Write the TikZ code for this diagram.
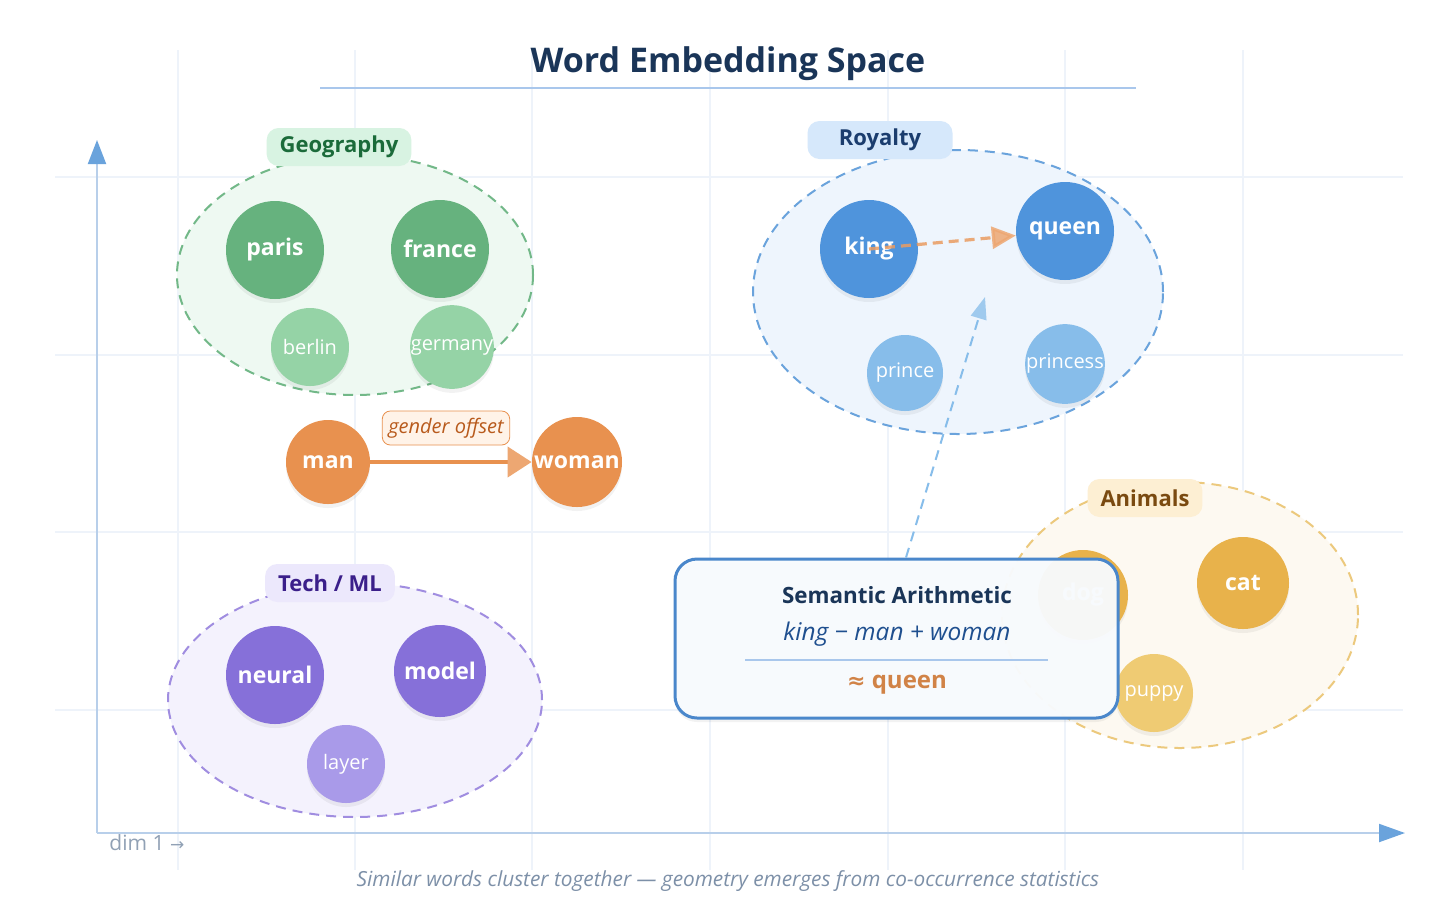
\documentclass[tikz,border=0pt]{standalone}
\usepackage{fontspec}
\setmainfont{Open Sans}
\newfontfamily\symfont{DejaVu Sans}
\usetikzlibrary{arrows.meta,shadows}

\definecolor{gridblue}{HTML}{EEF3FA}
\definecolor{axisblue}{HTML}{B8CFEA}
\definecolor{tipblue}{HTML}{6AA3DC}
\definecolor{titlenavy}{HTML}{1A3558}
\definecolor{rulerblue}{HTML}{A9C7EC}
\definecolor{captiongrey}{HTML}{7D90A8}
\definecolor{geodark}{HTML}{66B27E}
\definecolor{geolight}{HTML}{95D3A6}
\definecolor{geofill}{HTML}{EEF9F2}
\definecolor{geoline}{HTML}{72B888}
\definecolor{geopill}{HTML}{D8F3E2}
\definecolor{geotext}{HTML}{1B6B3A}
\definecolor{royaldark}{HTML}{4F94DC}
\definecolor{royallight}{HTML}{87BDEA}
\definecolor{royalfill}{HTML}{EEF5FD}
\definecolor{royalline}{HTML}{6AA3DC}
\definecolor{royalpill}{HTML}{D6E8FB}
\definecolor{royaltext}{HTML}{1B3D6E}
\definecolor{animdark}{HTML}{E8B24B}
\definecolor{animlight}{HTML}{EFCB73}
\definecolor{animfill}{HTML}{FDF9F1}
\definecolor{animline}{HTML}{ECC97D}
\definecolor{animpill}{HTML}{FDEFD3}
\definecolor{animtext}{HTML}{7A4A10}
\definecolor{techdark}{HTML}{8670D9}
\definecolor{techlight}{HTML}{A99AE9}
\definecolor{techfill}{HTML}{F4F2FD}
\definecolor{techline}{HTML}{A08DE0}
\definecolor{techpill}{HTML}{ECE8FC}
\definecolor{techtext}{HTML}{3B1F8A}
\definecolor{genderorange}{HTML}{E8914F}
\definecolor{genderpale}{HTML}{FFF3E8}
\definecolor{genderbrown}{HTML}{B85A1C}
\definecolor{boxblue}{HTML}{4A87CB}
\definecolor{boxfill}{HTML}{F8FBFE}
\definecolor{exprblue}{HTML}{1F4F8F}

\tikzset{
  softshadow/.style={drop shadow={shadow xshift=0pt, shadow yshift=-2pt, opacity=0.05, fill=black}},
  bigword/.style={circle, fill=#1, minimum size=49pt, inner sep=0pt, text=white,
    font=\fontsize{11.5}{13}\selectfont\bfseries, softshadow},
  smallword/.style={circle, fill=#1, minimum size=39pt, inner sep=0pt, text=white,
    font=\fontsize{10}{12}\selectfont, softshadow},
  cluster/.style={draw=#1, line width=1pt, dash pattern=on 5pt off 3.5pt},
  pill/.style={fill=#1, rounded corners=6pt, inner xsep=6.5pt, minimum height=19pt,
    font=\fontsize{11}{13}\selectfont\bfseries},
  gridline/.style={gridblue, line width=0.6pt},
  axisline/.style={axisblue, line width=1pt},
}

\begin{document}
\begin{tikzpicture}[x=0.5pt, y=-0.5pt]
\useasboundingbox[fill=white] (0,0) rectangle (1456,923);
\foreach \x in {178,355,532,710,888,1065,1243} \draw[gridline] (\x,50) -- (\x,870);
\foreach \y in {177,355,532,710} \draw[gridline] (55,\y) -- (1403,\y);
\coordinate (origin) at (97,833);
\coordinate (yend) at (97,140);
\coordinate (xend) at (1405,833);
\draw[axisline, -{Triangle[length=12pt, width=9pt, color=tipblue]}] (origin) -- (yend);
\draw[axisline, -{Triangle[length=13pt, width=9pt, color=tipblue]}] (origin) -- (xend);
\node[anchor=west, text=captiongrey!85, font=\fontsize{10.5}{12}\selectfont, inner sep=0pt] (dimlabel) at (109,843) {dim 1 {\symfont\fontsize{8.5}{10}\selectfont →}};

\node[text=titlenavy, font=\fontsize{17}{20}\selectfont\bfseries] (title) at (728,64) {Word Embedding Space};
\draw[rulerblue, line width=1.1pt] (320,88) -- (1136,88);
\node[text=captiongrey, font=\fontsize{10.4}{12}\selectfont\itshape] (caption) at (728,881) {Similar words cluster together — geometry emerges from co-occurrence statistics};

% clusters
\filldraw[cluster=geoline, fill=geofill] (355,275) ellipse [x radius=89pt, y radius=60pt];
\filldraw[cluster=royalline, fill=royalfill] (958,292) ellipse [x radius=102.5pt, y radius=71pt];
\filldraw[cluster=animline, fill=animfill] (1180,615) ellipse [x radius=89pt, y radius=66.5pt];
\filldraw[cluster=techline, fill=techfill] (355,700) ellipse [x radius=93.5pt, y radius=58.5pt];
\node[pill=geopill, text=geotext] (geolabel) at (339,147) {Geography};
\node[pill=royalpill, text=royaltext, minimum width=72.5pt] (royallabel) at (880,140) {Royalty};
\node[pill=animpill, text=animtext] (animlabel) at (1145,498) {Animals};
\node[pill=techpill, text=techtext] (techlabel) at (330,583) {Tech / ML};

% words
\node[bigword=geodark] (paris) at (275,250) {paris};
\node[bigword=geodark] (france) at (440,249) {france};
\node[smallword=geolight] (berlin) at (310,347) {berlin};
\node[smallword=geolight] (germany) at (452,347) {germany};
\node[bigword=royaldark] (king) at (869,249) {king};
\node[bigword=royaldark] (queen) at (1065,231) {queen};
\node[smallword=royallight, minimum size=38pt] (prince) at (905,373) {prince};
\node[smallword=royallight, minimum size=38pt] (princess) at (1065,364) {princess};
\node[bigword=genderorange, minimum size=42pt] (man) at (328,462) {man};
\node[bigword=genderorange, minimum size=45pt] (woman) at (577,462) {woman};
\node[bigword=animdark, minimum size=45pt] (dog) at (1083,595) {dog};
\node[bigword=animdark, minimum size=46pt] (cat) at (1243,583) {cat};
\node[smallword=animlight] (puppy) at (1154,693) {puppy};
\node[bigword=techdark] (neural) at (275,675) {neural};
\node[bigword=techdark, minimum size=46pt] (model) at (440,671) {model};
\node[smallword=techlight] (layer) at (346,764) {layer};

\draw[genderorange, line width=2pt, -{Triangle[length=12pt, width=15pt, color=genderorange!80!white]}] (man) -- (woman);
\node[draw=genderorange, fill=genderpale, rounded corners=4pt, inner xsep=3pt, minimum height=17pt,
  text=genderbrown, font=\fontsize{10}{12}\selectfont\itshape] (offsetlabel) at (446,428) {gender offset};
\draw[genderorange!90!white, opacity=0.85, line width=1.6pt, dash pattern=on 5pt off 3pt,
  -{Triangle[length=12pt, width=11pt, color=genderorange!80!white]}] (king.center) -- (queen);

% arithmetic box
\node[draw=boxblue, fill=boxfill, fill opacity=0.96, line width=1.5pt, rounded corners=11pt,
  minimum width=221.5pt, minimum height=79.5pt, softshadow] (arith) at (896.5,638.5) {};
\node[text=titlenavy, font=\fontsize{11.2}{13}\selectfont\bfseries] (arithtitle) at (897,595) {Semantic Arithmetic};
\node[text=exprblue, font=\fontsize{12.2}{14}\selectfont\itshape] (arithexpr) at (897,634) {king − man + woman};
\draw[rulerblue, line width=0.7pt] (745,660) -- (1048,660);
\node[text=genderorange!90!black, font=\fontsize{12}{14}\selectfont\bfseries] (arithresult) at (897,685) {{\symfont\fontsize{11}{12}\selectfont ≈} queen};
\coordinate (hint) at (985,297);
\draw[royallight, line width=1pt, dash pattern=on 5pt off 3.5pt,
  -{Triangle[length=11pt, width=8pt, color=royallight!80!white]}] ([xshift=4.75pt]arith.north) -- (hint);
\end{tikzpicture}
\end{document}
